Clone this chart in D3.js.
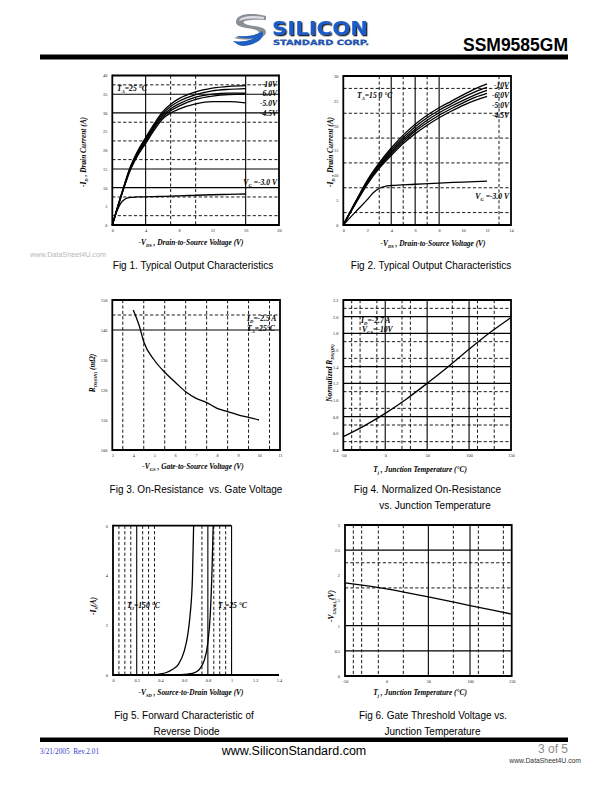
<!DOCTYPE html>
<html><head><meta charset="utf-8">
<script src="https://cdn.jsdelivr.net/npm/d3@7"></script>
<style>body{margin:0;background:#fff}svg{display:block}</style>
</head><body>
<svg id="page" width="612" height="792"></svg>
<script>
// ================= DATA =================
// Fig 1 : Typical output characteristics, TA = 25 C
const fig1Vds   = [0,0.5,1,1.5,2,3,4,5,6,7,8,10,12,14,16];
const fig1Id10  = [0,3.8,7.6,11.2,14.6,19.6,23.4,27.0,30.2,32.3,33.8,35.6,36.6,37.1,37.3];
const fig1Id7   = [0,3.8,7.5,11.0,14.4,19.3,23.0,26.6,29.7,31.7,33.1,34.9,35.9,36.3,36.5];
const fig1Id6   = [0,3.7,7.4,10.9,14.2,19.0,22.6,26.2,29.2,31.1,32.4,34.2,35.0,35.3,35.3];
const fig1Id5   = [0,3.7,7.3,10.8,14.0,18.7,22.2,25.8,28.8,30.6,31.8,33.6,34.5,34.9,35.0];
const fig1Id45  = [0,3.6,7.2,10.6,13.8,18.4,21.8,25.3,28.3,30.0,31.0,32.4,33.0,33.0,32.7];
const fig1Id3   = [0,3.4,5.8,6.9,7.35,7.5,7.55,7.6,7.65,7.7,7.8,7.95,8.1,8.2,8.3];
const fig1XTicks = [0,4,8,12,16,20];
const fig1YTicks = [0,5,10,15,20,25,30,35,40];

// Fig 2 : Typical output characteristics, TA = 150 C
const fig2Vds   = [0,1,2,3,4,5,6,7,8,9,10,11,12];
const fig2Id10  = [0,4.6,9.0,12.5,15.5,18.1,20.3,22.1,23.6,24.9,26.2,27.4,28.4];
const fig2Id7   = [0,4.5,8.8,12.2,15.1,17.6,19.8,21.6,23.1,24.4,25.7,26.8,27.7];
const fig2Id6   = [0,4.4,8.6,11.9,14.7,17.2,19.3,21.1,22.6,23.9,25.1,26.2,27.1];
const fig2Id5   = [0,4.3,8.4,11.7,14.4,16.8,18.9,20.6,22.1,23.4,24.6,25.7,26.5];
const fig2Id45  = [0,4.2,8.2,11.4,14.0,16.4,18.4,20.1,21.6,22.9,24.1,25.1,25.9];
const fig2Vds3  = [0,1,2,2.5,3,3.5,4,6,8,10,12];
const fig2Id3   = [0,2.6,5.1,6.5,7.4,7.8,7.95,8.2,8.45,8.65,8.85];
const fig2XTicks = [0,2,4,6,8,10,12,14];
const fig2YTicks = [0,5,10,15,20,25,30];

// Fig 3 : On-resistance vs gate voltage
const fig3Vgs  = [4,4.3,4.5,5,5.5,6,6.5,7,7.5,8,8.5,9,9.5,10];
const fig3Rds  = [146.7,141.1,136.1,130,125.9,122.6,119.4,117.2,115.8,113.9,112.8,111.7,110.9,110];
const fig3XTicks = [3,4,5,6,7,8,9,10,11];
const fig3YTicks = [100,110,120,130,140,150];

// Fig 4 : Normalized on-resistance vs junction temperature
const fig4Tj   = [-50,-25,0,25,50,75,100,125,150];
const fig4Rn   = [0.56,0.69,0.84,1.01,1.20,1.40,1.61,1.81,1.99];
const fig4XTicks = [-50,0,50,100,150];
const fig4YTicks = [0.4,0.6,0.8,1.0,1.2,1.4,1.6,1.8,2.0,2.2];

// Fig 5 : Forward characteristic of reverse diode
const fig5Vsd150 = [0.30,0.35,0.40,0.45,0.50,0.55,0.60,0.63,0.65,0.67,0.68];
const fig5Is150  = [0,0.01,0.04,0.10,0.22,0.42,0.95,1.6,2.4,3.9,6.0];
const fig5Vsd25  = [0.50,0.55,0.60,0.65,0.70,0.74,0.77,0.80,0.82,0.835,0.845];
const fig5Is25   = [0,0.01,0.02,0.05,0.12,0.30,0.60,1.30,2.40,4.20,6.0];
const fig5XTicks = [0,0.2,0.4,0.6,0.8,1,1.2,1.4];
const fig5YTicks = [0,2,4,6];

// Fig 6 : Gate threshold voltage vs junction temperature
const fig6Tj   = [-50,0,50,100,150];
const fig6Vth  = [1.85,1.73,1.57,1.40,1.23];
const fig6XTicks = [-50,0,50,100,150];
const fig6YTicks = [0,0.5,1,1.5,2,2.5,3];

// ================= DRAWING =================
const svg = d3.select('#page');
const serif = '"Liberation Serif","Times New Roman",serif';
const sans  = '"Liberation Sans",Arial,Helvetica,sans-serif';

const defs = svg.append('defs');
const f = defs.append('filter').attr('id', 'shadow').attr('x', '-5%').attr('y', '-20%').attr('width', '115%').attr('height', '150%');
f.append('feDropShadow').attr('dx', 1.3).attr('dy', 1.3).attr('stdDeviation', 0.3).attr('flood-color', '#111').attr('flood-opacity', 0.9);

function rich(parent, x, y, parts, o) {
  const size = o.size;
  const t = parent.append('text').attr('x', x).attr('y', y)
    .attr('font-family', o.family || serif).attr('font-size', size)
    .attr('font-weight', o.weight || 'bold').attr('font-style', o.style || 'italic')
    .attr('text-anchor', o.anchor || 'middle').attr('fill', o.fill || '#000')
    .style('white-space', 'pre');
  if (o.rotate) t.attr('transform', `rotate(-90,${x},${y})`);
  let prevSub = false;
  parts.forEach(p => {
    const s = t.append('tspan').text(p[0]);
    if (p[1] === 'sub') {
      s.attr('font-size', size * 0.62);
      if (!prevSub) s.attr('dy', size * 0.28);
      prevSub = true;
    } else {
      if (prevSub) s.attr('dy', -size * 0.28);
      prevSub = false;
    }
  });
  return t;
}

function chart(cfg) {
  const g = svg.append('g');
  const x = d3.scaleLinear().domain(cfg.xDomain).range([cfg.left, cfg.right]);
  const y = d3.scaleLinear().domain(cfg.yDomain).range([cfg.bottom, cfg.top]);
  const gx1 = cfg.gridRight != null ? x(cfg.gridRight) : cfg.right;
  const drawV = (vals, dashed) => g.selectAll(null).data(vals).join('line')
    .attr('x1', d => x(d)).attr('x2', d => x(d)).attr('y1', cfg.top).attr('y2', cfg.bottom)
    .attr('stroke', '#000').attr('stroke-width', dashed ? 0.9 : 1.1)
    .attr('stroke-dasharray', dashed ? '3.2,2.2' : null);
  const drawH = (vals, dashed) => g.selectAll(null).data(vals).join('line')
    .attr('x1', cfg.left).attr('x2', gx1).attr('y1', d => y(d)).attr('y2', d => y(d))
    .attr('stroke', '#000').attr('stroke-width', dashed ? 0.9 : 1.1)
    .attr('stroke-dasharray', dashed ? '3.2,2.2' : null);
  drawV(cfg.vSolid || [], false); drawV(cfg.vDashed || [], true);
  drawH(cfg.hSolid || [], false); drawH(cfg.hDashed || [], true);

  const fr = g.append('g').attr('stroke', '#000').attr('stroke-width', 1.8).attr('fill', 'none');
  fr.append('line').attr('x1', cfg.left).attr('x2', cfg.left).attr('y1', cfg.top - 0.9).attr('y2', cfg.bottom + 0.9);
  fr.append('line').attr('x1', cfg.left).attr('x2', cfg.right).attr('y1', cfg.bottom).attr('y2', cfg.bottom);
  fr.append('line').attr('x1', cfg.left).attr('x2', gx1).attr('y1', cfg.top).attr('y2', cfg.top);
  if (cfg.gridRight == null)
    fr.append('line').attr('x1', cfg.right).attr('x2', cfg.right).attr('y1', cfg.top - 0.9).attr('y2', cfg.bottom + 0.9);

  const ax = g.append('g').attr('transform', `translate(0,${cfg.bottom})`)
    .call(d3.axisBottom(x).tickValues(cfg.xTicks).tickSize(0).tickPadding(4).tickFormat(cfg.xFmt || (d => d)));
  const ay = g.append('g').attr('transform', `translate(${cfg.left},0)`)
    .call(d3.axisLeft(y).tickValues(cfg.yTicks).tickSize(0).tickPadding(5).tickFormat(cfg.yFmt || (d => d)));
  [ax, ay].forEach(a => {
    a.select('.domain').remove();
    a.selectAll('text').attr('font-family', serif).attr('font-size', 4.3).attr('fill', '#222');
  });

  const line = d3.line().x(d => x(d[0])).y(d => y(d[1])).curve(d3.curveMonotoneX);
  cfg.series.forEach(s => {
    g.append('path').attr('d', line(s.xs.map((v, i) => [v, s.ys[i]])))
      .attr('fill', 'none').attr('stroke', '#000').attr('stroke-width', 1.3);
  });
  return {g, x, y};
}

// ---------- header ----------
(function header() {
  const h = svg.append('g');
  h.append('path').attr('d', 'M266,16 C250,12 236,14 236,22 C236,29 252,27 258,31 C262,34 252,37 240,36 L234,38 C246,41 266,40 266,32 C266,25 248,27 244,23 C241,20 254,19 266,20 Z')
    .attr('fill', '#8a8f96');
  h.append('path').attr('d', 'M236,36 C246,37 258,35 262,31 C266,37 258,44 244,46 C240,46 236,44 233,41 C240,42 250,41 254,38 C248,39 240,38 236,36 Z')
    .attr('fill', '#1f5fc0');
  h.append('path').attr('d', 'M264,17 C252,15 240,16 239,21 C245,18 256,18 264,19 Z').attr('fill', '#d9dde2');
  h.append('text').attr('x', 272).attr('y', 34.5).text('SILICON')
    .attr('font-family', '"DejaVu Sans",sans-serif').attr('font-weight', 'bold').attr('font-size', 20)
    .attr('textLength', 96).attr('lengthAdjust', 'spacingAndGlyphs').attr('fill', '#1e5cc8')
    .attr('filter', 'url(#shadow)');
  h.append('text').attr('x', 273).attr('y', 45).text('STANDARD CORP.')
    .attr('font-family', '"DejaVu Sans",sans-serif').attr('font-weight', 'bold').attr('font-size', 7.2)
    .attr('textLength', 96).attr('lengthAdjust', 'spacingAndGlyphs').attr('fill', '#1e5cc8')
    .attr('stroke', '#0b2a66').attr('stroke-width', 0.25);
  h.append('text').attr('x', 568).attr('y', 51).attr('text-anchor', 'end').text('SSM9585GM')
    .attr('font-family', sans).attr('font-weight', 'bold').attr('font-size', 17.5).attr('fill', '#000');
  h.append('rect').attr('x', 40).attr('y', 54.5).attr('width', 528).attr('height', 5).attr('fill', '#000');
})();

// ---------- Fig 1 ----------
chart({
  left: 112.3, right: 279, top: 75.5, bottom: 225, xDomain: [0, 20], yDomain: [0, 40],
  xTicks: fig1XTicks, yTicks: fig1YTicks,
  vSolid: [4, 16], vDashed: [7, 10], hSolid: [10, 15, 30, 35], hDashed: [2.5, 7.5, 17.5, 22.5, 27.5, 37.5],
  series: [fig1Id10, fig1Id7, fig1Id6, fig1Id5, fig1Id45, fig1Id3].map(ys => ({xs: fig1Vds, ys}))
});
// ---------- Fig 2 ----------
chart({
  left: 343.3, right: 511, top: 76, bottom: 225, xDomain: [0, 14], yDomain: [0, 30],
  xTicks: fig2XTicks, yTicks: fig2YTicks,
  vSolid: [4, 6, 8], vDashed: [3, 5, 7, 13], hDashed: [2.5, 7.5, 12.5, 17.5, 22.5, 27.5],
  series: [fig2Id10, fig2Id7, fig2Id6, fig2Id5, fig2Id45].map(ys => ({xs: fig2Vds, ys}))
    .concat([{xs: fig2Vds3, ys: fig2Id3}])
});
// ---------- Fig 3 ----------
chart({
  left: 112.3, right: 280, top: 300, bottom: 450, xDomain: [3, 11], yDomain: [100, 150],
  xTicks: fig3XTicks, yTicks: fig3YTicks,
  vDashed: [3.5, 4.5, 5.5, 6.5, 7.5, 8.5, 9.5, 10.5], hSolid: [140], hDashed: [145],
  series: [{xs: fig3Vgs, ys: fig3Rds}]
});
// ---------- Fig 4 ----------
chart({
  left: 343.3, right: 511, top: 300, bottom: 450, xDomain: [-50, 150], yDomain: [0.4, 2.2],
  xTicks: fig4XTicks, yTicks: fig4YTicks, yFmt: d3.format('.1f'),
  vSolid: [0, 50, 100], vDashed: [-40, -30, -10, 20, 30, 80, 110, 130],
  hSolid: [0.8, 1.2, 1.4, 1.8, 2.0], hDashed: [0.5, 0.7, 0.9, 1.1, 1.5, 1.7, 2.1],
  series: [{xs: fig4Tj, ys: fig4Rn}]
});
// ---------- Fig 5 ----------
chart({
  left: 113, right: 279, top: 525.7, bottom: 675, xDomain: [0, 1.4], yDomain: [0, 6], gridRight: 1.0,
  xTicks: fig5XTicks, yTicks: fig5YTicks,
  vSolid: [0.2, 0.8, 1.0], vDashed: [0.05, 0.1, 0.15, 0.25, 0.3, 0.35, 0.75, 0.85, 0.9, 0.95],
  series: [{xs: fig5Vsd150, ys: fig5Is150}, {xs: fig5Vsd25, ys: fig5Is25}]
});
// ---------- Fig 6 ----------
chart({
  left: 345, right: 511.7, top: 525, bottom: 676, xDomain: [-50, 150], yDomain: [0, 3],
  xTicks: fig6XTicks, yTicks: fig6YTicks,
  vSolid: [50, 100], vDashed: [-40, -30, -10, 20, 80, 110, 140],
  hSolid: [0.5, 1, 2.5], hDashed: [1.75, 2.25],
  series: [{xs: fig6Tj, ys: fig6Vth}]
});

// ---------- annotations ----------
const A = svg.append('g');
const ann = (x, y, parts, anchor) => rich(A, x, y, parts, {size: 7.6, anchor: anchor || 'start'});
ann(117, 91, [['T'], ['A', 'sub'], ['=25 °C']]);
ann(277, 86.5, [['-10V']], 'end');
ann(277, 96, [['6.0V']], 'end');
ann(277, 106, [['-5.0V']], 'end');
ann(277, 116, [['-4.5V']], 'end');
ann(277, 184.5, [['V'], ['G', 'sub'], [' =-3.0 V']], 'end');
ann(357, 97.5, [['T'], ['A', 'sub'], ['=15 0 °C']]);
ann(509, 88, [['-10V']], 'end');
ann(509, 98, [['-6.0V']], 'end');
ann(509, 108, [['-5.0V']], 'end');
ann(509, 118, [['-4.5V']], 'end');
ann(509, 198.5, [['V'], ['G', 'sub'], [' =-3.0 V']], 'end');
ann(247, 320.5, [['I'], ['D', 'sub'], ['=-2.5 A']]);
ann(247, 331, [['T'], ['A', 'sub'], ['=25°C']]);
ann(361, 322.5, [['I'], ['D', 'sub'], ['=-2.7 A']]);
ann(362, 332, [['V'], ['GS', 'sub'], ['=-10V']]);
ann(127, 607.5, [['T'], ['J', 'sub'], ['=150 °C']]);
ann(218, 607.5, [['T'], ['J', 'sub'], ['=25 °C']]);

// ---------- axis titles ----------
const T = svg.append('g');
const xt = (x, y, parts) => rich(T, x, y, parts, {size: 7.4});
const yt = (x, y, parts) => rich(T, x, y, parts, {size: 7.4, rotate: true});
xt(191, 245, [['-V'], ['DS', 'sub'], [' , Drain-to-Source Voltage (V)']]);
xt(433, 245.5, [['-V'], ['DS', 'sub'], [' , Drain-to-Source Voltage (V)']]);
xt(193, 468.5, [['-V'], ['GS', 'sub'], [' , Gate-to-Source Voltage (V)']]);
xt(420, 471.5, [['T'], ['j', 'sub'], [' , Junction Temperature (°C)']]);
xt(191, 694.5, [['-V'], ['SD', 'sub'], [' , Source-to-Drain Voltage (V)']]);
xt(420, 694.5, [['T'], ['j', 'sub'], [' , Junction Temperature (°C)']]);
yt(86, 152, [['-I'], ['D', 'sub'], [' , Drain Current (A)']]);
yt(333, 152, [['-I'], ['D', 'sub'], [' , Drain Current (A)']]);
yt(94.5, 373, [['R'], ['DS(ON)', 'sub'], [' (mΩ)']]);
yt(331.5, 373, [['Normalized R'], ['DS(ON)', 'sub']]);
yt(95.5, 606, [['-I'], ['S', 'sub'], ['(A)']]);
yt(333.5, 606, [['-V'], ['GS(th)', 'sub'], [' (V)']]);

// ---------- captions ----------
const C = svg.append('g').attr('font-family', sans).attr('font-size', 10).attr('fill', '#000').attr('text-anchor', 'middle');
[[193, 268.5, 'Fig 1. Typical Output Characteristics'],
 [431, 268.5, 'Fig 2. Typical Output Characteristics'],
 [196, 492.5, 'Fig 3. On-Resistance  vs. Gate Voltage'],
 [427.5, 492.5, 'Fig 4. Normalized On-Resistance'],
 [435, 508.5, 'vs. Junction Temperature'],
 [184, 718.5, 'Fig 5. Forward Characteristic of'],
 [186.5, 734.5, 'Reverse Diode'],
 [433, 718.5, 'Fig 6. Gate Threshold Voltage vs.'],
 [432.5, 734.5, 'Junction Temperature']].forEach(d => {
  C.append('text').attr('x', d[0]).attr('y', d[1]).text(d[2]).style('white-space', 'pre');
});

svg.append('text').attr('x', 30).attr('y', 257).text('www.DataSheet4U.com')
  .attr('font-family', sans).attr('font-size', 7.2).attr('fill', '#b8b8b8');

// ---------- footer ----------
svg.append('rect').attr('x', 40).attr('y', 737.5).attr('width', 528).attr('height', 4.5).attr('fill', '#000');
svg.append('text').attr('x', 40).attr('y', 754).text('3/21/2005  Rev.2.01').style('white-space', 'pre')
  .attr('font-family', serif).attr('font-size', 7.3).attr('fill', '#3a3acc');
svg.append('text').attr('x', 294).attr('y', 755).attr('text-anchor', 'middle').text('www.SiliconStandard.com')
  .attr('font-family', sans).attr('font-size', 12.5).attr('fill', '#000');
svg.append('text').attr('x', 568).attr('y', 752.5).attr('text-anchor', 'end').text('3 of 5')
  .attr('font-family', sans).attr('font-size', 12).attr('fill', '#8a8a8a');
svg.append('text').attr('x', 581).attr('y', 763).attr('text-anchor', 'end').text('www.DataSheet4U.com')
  .attr('font-family', sans).attr('font-size', 6.8).attr('fill', '#333');
</script>
</body></html>
